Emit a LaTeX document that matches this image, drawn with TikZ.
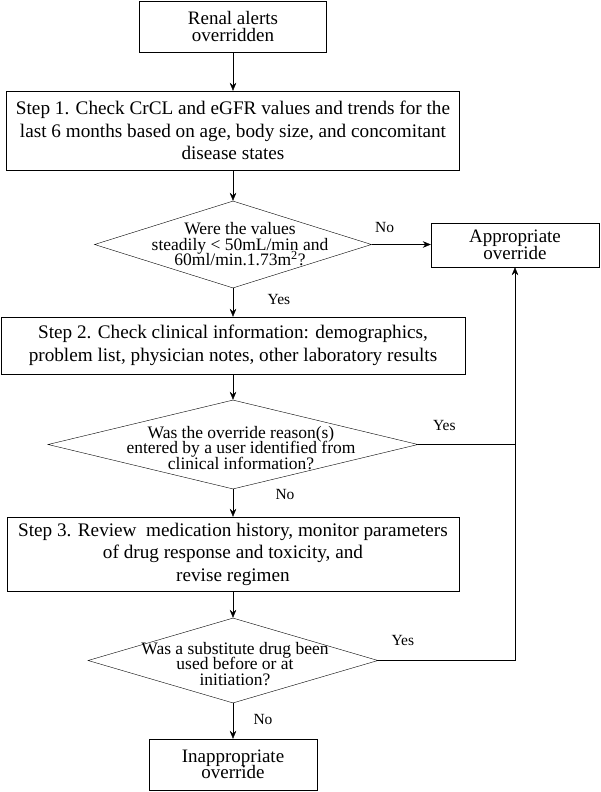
\documentclass[tikz,border=0pt]{standalone}
\usepackage{fontspec}
\setmainfont{Liberation Serif}
\usetikzlibrary{arrows.meta, shapes.geometric}
\newcommand\tightlines{\lineskiplimit-10pt\relax}
\tikzset{
->, % every connector gets a head
>={Stealth[length=8pt, width=6.5pt]}, % small filled heads
line width=1pt, % thin black lines
box/.style={draw, rectangle, align=center, inner sep=0pt, font=\fontsize{19.2}{22.5}\selectfont\tightlines}, % step boxes
endbox/.style={box, font=\fontsize{19}{16.5}\selectfont\tightlines}, % start and end boxes
decision/.style={draw, diamond, inner sep=0pt}, % the question shapes, text set apart
question/.style={align=center, inner sep=0pt, font=\fontsize{17.5}{15.5}\selectfont\tightlines}, % text inside a diamond
answer/.style={inner sep=0pt, font=\fontsize{15.5}{18}\selectfont}, % Yes / No
}
\begin{document}
\begin{tikzpicture}[x=1pt, y=-1pt]
\useasboundingbox (0,0) rectangle (600,792);

            \node[endbox, minimum width=187pt, minimum height=51pt] (alerts) at (233,26.5) {Renal alerts\\overridden};
            \node[box, minimum width=453pt, minimum height=79pt] (step1) at (233,130.5) {Step 1. Check CrCL and eGFR values and trends for the\\last 6 months based on age, body size, and concomitant\\disease states};
            \node[decision, minimum width=277pt, minimum height=87pt] (values) at (233,244.5) {};
            \node[question] (valuestext) at (240,244.5) {Were the values\\steadily < 50mL/min and\\60ml/min.1.73m\textsuperscript{2}?};
            \node[endbox, minimum width=168pt, minimum height=44pt] (appropriate) at (515,245) {Appropriate\\override};
            \node[box, minimum width=464pt, minimum height=57pt] (step2) at (233,345.5) {Step 2. Check clinical information: demographics,\\problem list, physician notes, other laboratory results};
            \node[decision, minimum width=370pt, minimum height=89pt] (reason) at (233,444.5) {};
            \node[question] (reasontext) at (241,448) {Was the override reason(s)\\entered by a user identified from\\clinical information?};
            \node[box, minimum width=452pt, minimum height=74pt] (step3) at (233,554) {Step 3. Review\ \ medication history, monitor parameters\\of drug response and toxicity, and\\revise regimen};
            \node[decision, minimum width=290pt, minimum height=85pt] (substitute) at (233,660.5) {};
            \node[question] (substitutetext) at (235,664) {Was a substitute drug been\\used before or at\\initiation?};
            \node[endbox, minimum width=168pt, minimum height=51pt] (inappropriate) at (233,764.5) {Inappropriate\\override};

            \draw (alerts) -- (step1);
            \draw (step1) -- (values);
            \draw (values) -- node[answer, pos=0.38, xshift=46pt]{Yes} (step2);
            \draw (values.east) -- node[answer, pos=0.22, yshift=17pt]{No} (appropriate.west |- values.east);
            \draw (step2) -- (reason);
            \draw (reason.east) -- node[answer, pos=0.27, yshift=19pt]{Yes} (reason.east -| appropriate.south) -- (appropriate.south);
            \draw (reason) -- node[answer, pos=0.21, xshift=52pt]{No} (step3);
            \draw (step3) -- (substitute);
            \draw[-] (substitute.east) -- node[answer, pos=0.18, yshift=20pt]{Yes} (substitute.east -| appropriate.south) -- (reason.east -| appropriate.south);
            \draw (substitute) -- node[answer, pos=0.47, xshift=30pt]{No} (inappropriate);
        \end{tikzpicture}
\end{document}
